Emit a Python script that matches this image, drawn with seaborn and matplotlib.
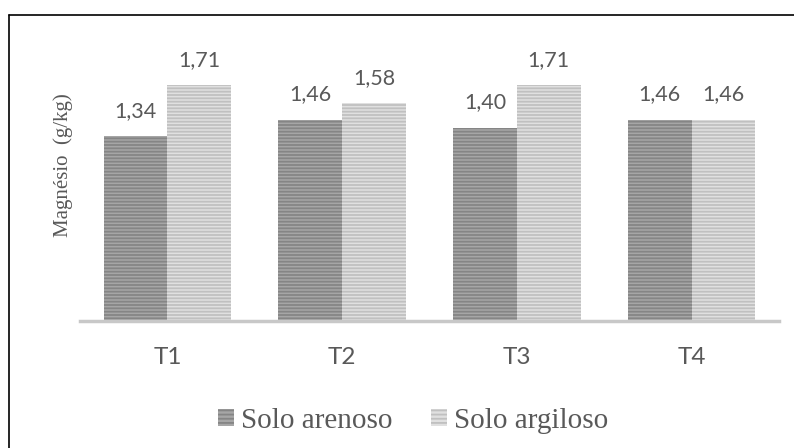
import pandas as pd
import numpy as np
import matplotlib.pyplot as plt
import seaborn as sns
from matplotlib.lines import Line2D

# dados
tratamentos = ["T1", "T2", "T3", "T4"]
solo_arenoso = [1.34, 1.46, 1.40, 1.46]
solo_argiloso = [1.71, 1.58, 1.71, 1.46]
series = ["Solo arenoso", "Solo argiloso"]

df = pd.DataFrame({
    "trat": tratamentos * 2,
    "mg": solo_arenoso + solo_argiloso,
    "solo": [series[0]] * 4 + [series[1]] * 4,
})

sns.set_style("white")
plt.rcParams["font.family"] = ["Lato", "DejaVu Sans"]
plt.rcParams["hatch.linewidth"] = 1.3

fill_cols = ["#a6a6a6", "#e0e0e0"]
stripe_cols = ["#858585", "#c0c0c0"]
text_col = "#595959"

fig = plt.figure(figsize=(7.94, 4.48), dpi=100)
ax = fig.add_axes([80 / 794, 127 / 448, 699 / 794, 276 / 448])

sns.barplot(data=df, x="trat", y="mg", hue="solo", palette=fill_cols,
            width=0.73, gap=0, saturation=1, ax=ax, legend=False)

for i, cont in enumerate(ax.containers):
    for p in cont:
        p.set_edgecolor(stripe_cols[i])
        p.set_linewidth(0)
        p.set_hatch("-----")
    labels = [f"{v:.2f}".replace(".", ",") for v in cont.datavalues]
    ax.bar_label(cont, labels=labels, padding=11, fontsize=15.5, color=text_col)

ax.set_ylim(0, 2.0)
ax.set_xlim(-0.5, 3.5)
ax.set_yticks([])
ax.set_xlabel("")
ax.set_ylabel("")
ax.tick_params(axis="x", length=0, labelsize=17.5, labelcolor=text_col, pad=19)
for s in ["top", "right", "left"]:
    ax.spines[s].set_visible(False)
ax.spines["bottom"].set_color("#c8c8c8")
ax.spines["bottom"].set_linewidth(2.5)

fig.text(63 / 794, 1 - 165 / 448, "Magnésio  (g/kg)", rotation=90, ha="center", va="center",
         fontsize=15, family="Liberation Serif", color=text_col)

handles = [plt.Rectangle((0, 0), 1, 1, facecolor=fill_cols[i], edgecolor=stripe_cols[i],
                         linewidth=0, hatch="----") for i in range(2)]
fig.legend(handles, series, loc="center", bbox_to_anchor=(413 / 794, 27 / 448), ncol=2,
           frameon=False, prop={"family": "Liberation Serif", "size": 21},
           labelcolor=text_col, handlelength=0.55, handleheight=0.55, handletextpad=0.25,
           columnspacing=1.3)

# moldura
fig.add_artist(Line2D([9 / 794, 1], [1 - 15 / 448, 1 - 15 / 448], color="black", linewidth=1.2))
fig.add_artist(Line2D([9 / 794, 9 / 794], [0, 1 - 15 / 448], color="black", linewidth=1.2))

fig.savefig("out.png", dpi=100)
